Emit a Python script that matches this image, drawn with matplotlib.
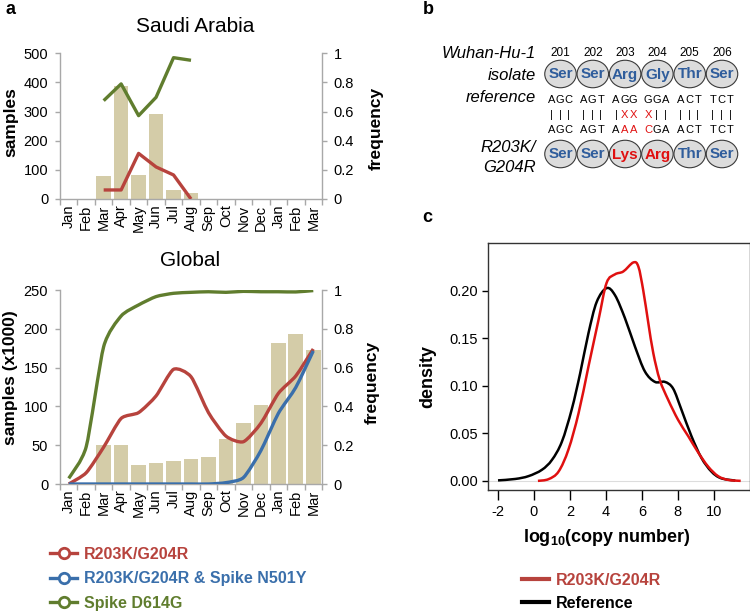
import matplotlib
matplotlib.use('Agg')
import matplotlib.pyplot as plt
from matplotlib.lines import Line2D
from matplotlib.patches import Ellipse, PathPatch
from matplotlib.path import Path
import numpy as np

plt.rcParams['font.family'] = ['Liberation Sans', 'DejaVu Sans']
plt.rcParams['mathtext.fontset'] = 'custom'
plt.rcParams['mathtext.rm'] = 'Liberation Sans'
plt.rcParams['mathtext.bf'] = 'Liberation Sans:bold'
plt.rcParams['mathtext.it'] = 'Liberation Sans:italic'

# ---------------- data ----------------
months = ['Jan', 'Feb', 'Mar', 'Apr', 'May', 'Jun', 'Jul', 'Aug', 'Sep',
          'Oct', 'Nov', 'Dec', 'Jan', 'Feb', 'Mar']

sa_samples = [0, 0, 79, 388, 82, 291, 31, 21, 0, 0, 0, 0, 0, 0, 0]
sa_r203k = [np.nan, np.nan, 0.062, 0.062, 0.313, 0.22, 0.165, 0.0,
            np.nan, np.nan, np.nan, np.nan, np.nan, np.nan, np.nan]
sa_d614g = [np.nan, np.nan, 0.675, 0.79, 0.572, 0.698, 0.97, 0.952,
            np.nan, np.nan, np.nan, np.nan, np.nan, np.nan, np.nan]

gl_samples = [0, 0, 50, 50, 24.5, 27, 29, 32, 34.5, 58, 78, 102, 182, 193, 173]
gl_r203k = [0.0, 0.058, 0.19, 0.338, 0.368, 0.454, 0.591, 0.553, 0.368,
            0.247, 0.218, 0.313, 0.467, 0.557, 0.696]
gl_n501y = [0, 0, 0, 0, 0, 0, 0, 0, 0, 0.007, 0.033, 0.172, 0.364, 0.498, 0.686]
gl_d614g = [0.029, 0.192, 0.708, 0.866, 0.923, 0.966, 0.983, 0.988, 0.991,
            0.988, 0.993, 0.991, 0.991, 0.99, 0.997]

sa_left_ticks = [0, 100, 200, 300, 400, 500]
gl_left_ticks = [0, 50, 100, 150, 200, 250]
freq_ticks = [0, 0.2, 0.4, 0.6, 0.8, 1.0]
freq_labels = ['0', '0.2', '0.4', '0.6', '0.8', '1']

series_labels = ['R203K/G204R', 'R203K/G204R & Spike N501Y', 'Spike D614G']

positions = ['201', '202', '203', '204', '205', '206']
ref_aa = ['Ser', 'Ser', 'Arg', 'Gly', 'Thr', 'Ser']
mut_aa = ['Ser', 'Ser', 'Lys', 'Arg', 'Thr', 'Ser']
ref_codons = ['AGC', 'AGT', 'AGG', 'GGA', 'ACT', 'TCT']
mut_codons = ['AGC', 'AGT', 'AAA', 'CGA', 'ACT', 'TCT']

ref_x = [-2.0, -1.04, -0.3, 0.44, 1.0, 1.55, 2.1, 2.57, 3.03, 3.49, 4.04, 4.51,
         5.06, 5.62, 6.17, 6.73, 7.28, 7.74, 8.2, 8.76, 9.32, 9.87, 10.4, 11.2]
ref_y = [0.0005, 0.002, 0.005, 0.0116, 0.022, 0.041, 0.075, 0.113, 0.155, 0.188,
         0.2025, 0.195, 0.171, 0.141, 0.115, 0.104, 0.104, 0.097, 0.075, 0.047,
         0.024, 0.0098, 0.0028, 0.0003]
mut_x = [0.22, 0.81, 1.37, 1.92, 2.48, 3.03, 3.59, 4.04, 4.51, 4.97, 5.53, 5.81,
         6.08, 6.36, 6.64, 7.0, 7.47, 8.02, 8.58, 9.13, 9.69, 10.24, 10.8, 11.5]
mut_y = [0.0, 0.0018, 0.0098, 0.033, 0.071, 0.12, 0.169, 0.208, 0.217, 0.22,
         0.2295, 0.225, 0.20, 0.166, 0.134, 0.106, 0.085, 0.064, 0.047, 0.03,
         0.015, 0.005, 0.001, 0.0]
dens_xticks = [-2, 0, 2, 4, 6, 8, 10]
dens_yticks = [0.0, 0.05, 0.10, 0.15, 0.20]

# ---------------- styles ----------------
C_BAR = '#d4cca8'
C_RED = '#b7433d'
C_BLUE = '#3a6fab'
C_GREEN = '#607d2e'
C_AXIS = '#a8a8a8'
C_AA = '#2f5d9c'
C_MUT = '#e01010'

W, H = 750, 613
fig = plt.figure(figsize=(7.5, 6.13), dpi=100)


def fx(x):
    return x / W


def fy(y):
    return 1 - y / H


def smooth_path(xs, ys, k=6.0):
    pts = np.column_stack([np.asarray(xs, float), np.asarray(ys, float)])
    n = len(pts)
    verts = [pts[0]]
    codes = [Path.MOVETO]
    for i in range(n - 1):
        p0 = pts[i - 1] if i > 0 else pts[i]
        p1 = pts[i]
        p2 = pts[i + 1]
        p3 = pts[i + 2] if i + 2 < n else pts[i + 1]
        verts += [p1 + (p2 - p0) / k, p2 - (p3 - p1) / k, p2]
        codes += [Path.CURVE4] * 3
    return Path(verts, codes)


def style_category_axes(ax, ax2, yticks, ymax):
    x = np.arange(len(months))
    ax.set_xlim(-0.5, len(months) - 0.5)
    ax.set_ylim(0, ymax)
    ax2.set_ylim(0, 1)
    ax.set_xticks(np.arange(-0.5, len(months), 1))
    ax.set_xticklabels([])
    ax.set_xticks(x, minor=True)
    ax.set_xticklabels(months, minor=True, rotation=90, fontsize=10.5)
    ax.tick_params(axis='x', which='major', length=4, color=C_AXIS, width=1)
    ax.tick_params(axis='x', which='minor', length=0, pad=4)
    ax.set_yticks(yticks)
    ax.set_yticklabels([str(t) for t in yticks], fontsize=10.5)
    ax.tick_params(axis='y', length=3.5, color=C_AXIS, width=1, pad=5)
    ax2.set_yticks(freq_ticks)
    ax2.set_yticklabels(freq_labels, fontsize=10.5)
    ax2.tick_params(axis='y', length=3.5, color=C_AXIS, width=1, pad=5)
    for a in (ax, ax2):
        a.spines['top'].set_visible(False)
        for s in ('left', 'right', 'bottom'):
            a.spines[s].set_color(C_AXIS)
            a.spines[s].set_linewidth(1)
    ax.spines['right'].set_visible(False)
    ax2.spines['left'].set_visible(False)
    ax2.spines['bottom'].set_visible(False)


# ---------- panel a: Saudi Arabia ----------
ax_sa = fig.add_axes([fx(60), fy(199), fx(322) - fx(60), fy(53.3) - fy(199)])
ax_sa2 = ax_sa.twinx()
xc = np.arange(len(months))
ax_sa.bar(xc, sa_samples, width=0.84, color=C_BAR, zorder=1)
ax_sa2.plot(xc, sa_d614g, color=C_GREEN, lw=2.4, solid_capstyle='butt')
ax_sa2.plot(xc, sa_r203k, color=C_RED, lw=2.4, solid_capstyle='butt')
style_category_axes(ax_sa, ax_sa2, sa_left_ticks, 500)

# ---------- panel a: Global ----------
ax_gl = fig.add_axes([fx(60), fy(484), fx(322) - fx(60), fy(290) - fy(484)])
ax_gl2 = ax_gl.twinx()
ax_gl.bar(xc, gl_samples, width=0.84, color=C_BAR, zorder=1)
for vals, col in ((gl_d614g, C_GREEN), (gl_r203k, C_RED), (gl_n501y, C_BLUE)):
    ax_gl2.add_patch(PathPatch(smooth_path(xc, vals, k=9.0), fill=False,
                               edgecolor=col, lw=2.4, capstyle='butt'))
style_category_axes(ax_gl, ax_gl2, gl_left_ticks, 250)

fig.text(fx(195), fy(27), 'Saudi Arabia', fontsize=15, ha='center', va='center')
fig.text(fx(190), fy(261), 'Global', fontsize=15, ha='center', va='center')
fig.text(fx(11), fy(122), 'samples', fontsize=12.5, fontweight='bold',
         rotation=90, ha='center', va='center')
fig.text(fx(11), fy(378), 'samples (x1000)', fontsize=12.5, fontweight='bold',
         rotation=90, ha='center', va='center')
fig.text(fx(376), fy(128), 'frequency', fontsize=12.5, fontweight='bold',
         rotation=90, ha='center', va='center')
fig.text(fx(372), fy(382), 'frequency', fontsize=12.5, fontweight='bold',
         rotation=90, ha='center', va='center')

handles_a = [Line2D([], [], color=c, lw=2.4, marker='o', markersize=7.5,
                    markerfacecolor='white', markeredgewidth=2)
             for c in (C_RED, C_BLUE, C_GREEN)]
fig.legend(handles_a, series_labels, loc='upper left',
           bbox_to_anchor=(fx(50), fy(547)), frameon=False,
           prop={'weight': 'bold', 'size': 11.5},
           labelcolor=[C_RED, C_BLUE, C_GREEN], handlelength=1.7,
           handletextpad=0.4, labelspacing=0.58, borderpad=0, borderaxespad=0)

# ---------- panel b ----------
ov = fig.add_axes([0, 0, 1, 1])
ov.set_xlim(0, W)
ov.set_ylim(H, 0)
ov.axis('off')
ov.patch.set_alpha(0)

cx0, dcx = 560.5, 32.3
y_num, y_ref, y_c1, y_bar, y_c2, y_mut = 53, 74, 100, 115, 130, 154
for i in range(len(positions)):
    cx = cx0 + i * dcx
    ov.text(cx, y_num, positions[i], fontsize=8.5, ha='center', va='center')
    for yy, aa, ref in ((y_ref, ref_aa[i], ref_aa[i]), (y_mut, mut_aa[i], ref_aa[i])):
        ov.add_patch(Ellipse((cx, yy), 31.5, 27.5, facecolor='#dcdcdc',
                             edgecolor='#3a3a3a', lw=0.8))
        ov.text(cx, yy + 0.5, aa, fontsize=11, fontweight='bold', ha='center',
                va='center', color=C_AA if aa == ref else C_MUT)
    for j in range(3):
        chx = cx - 0.5 + (j - 1) * 8.6
        a, b = ref_codons[i][j], mut_codons[i][j]
        same = a == b
        ov.text(chx, y_c1, a, fontsize=8, ha='center', va='center')
        ov.text(chx, y_bar, '|' if same else 'X', fontsize=8, ha='center',
                va='center', color='black' if same else C_MUT)
        ov.text(chx, y_c2, b, fontsize=8, ha='center', va='center',
                color='black' if same else C_MUT)

for txt, yy in (('Wuhan-Hu-1', 53), ('isolate', 75), ('reference', 97),
                ('R203K/', 147), ('G204R', 168)):
    ov.text(536, yy, txt, fontsize=12, style='italic', ha='right', va='center')

ov.text(10, 10, 'a', fontsize=13, fontweight='bold', ha='center', va='center')
ov.text(428, 9, 'b', fontsize=13, fontweight='bold', ha='center', va='center')
ov.text(427, 218, 'c', fontsize=13, fontweight='bold', ha='center', va='center')

# ---------- panel c ----------
ax_c = fig.add_axes([fx(488.3), fy(490), fx(750.4) - fx(488.3), fy(243.3) - fy(490)])
ax_c.axhline(0, color='#dddddd', lw=0.8, zorder=1)
ax_c.add_patch(PathPatch(smooth_path(ref_x, ref_y), fill=False, edgecolor='black',
                         lw=1.8, zorder=3))
ax_c.add_patch(PathPatch(smooth_path(mut_x, mut_y), fill=False, edgecolor=C_MUT,
                         lw=1.8, zorder=3))
ax_c.set_xlim(-2.54, 12.04)
ax_c.set_ylim(-0.0096, 0.2496)
ax_c.set_xticks(dens_xticks)
ax_c.set_xticklabels([str(t) for t in dens_xticks], fontsize=10.5)
ax_c.set_yticks(dens_yticks)
ax_c.set_yticklabels(['%.2f' % t for t in dens_yticks], fontsize=10.5)
ax_c.tick_params(axis='x', length=7, width=1, pad=4)
ax_c.tick_params(axis='y', length=4.5, width=1, pad=3)
for s in ax_c.spines.values():
    s.set_linewidth(1)
    s.set_color('#333333')
fig.text(fx(428), fy(377), 'density', fontsize=13, fontweight='bold',
         rotation=90, ha='center', va='center')
fig.text(fx(607), fy(537), r'log$_{\mathbf{10}}$(copy number)', fontsize=13,
         fontweight='bold', ha='center', va='center')

handles_c = [Line2D([], [], color=C_RED, lw=3), Line2D([], [], color='black', lw=3)]
fig.legend(handles_c, ['R203K/G204R', 'Reference'], loc='upper left',
           bbox_to_anchor=(fx(521.5), fy(573)), frameon=False,
           prop={'weight': 'bold', 'size': 11.5},
           labelcolor=[C_RED, 'black'], handlelength=1.75,
           handletextpad=0.4, labelspacing=0.5, borderpad=0, borderaxespad=0)

fig.savefig('out.png', dpi=100)
